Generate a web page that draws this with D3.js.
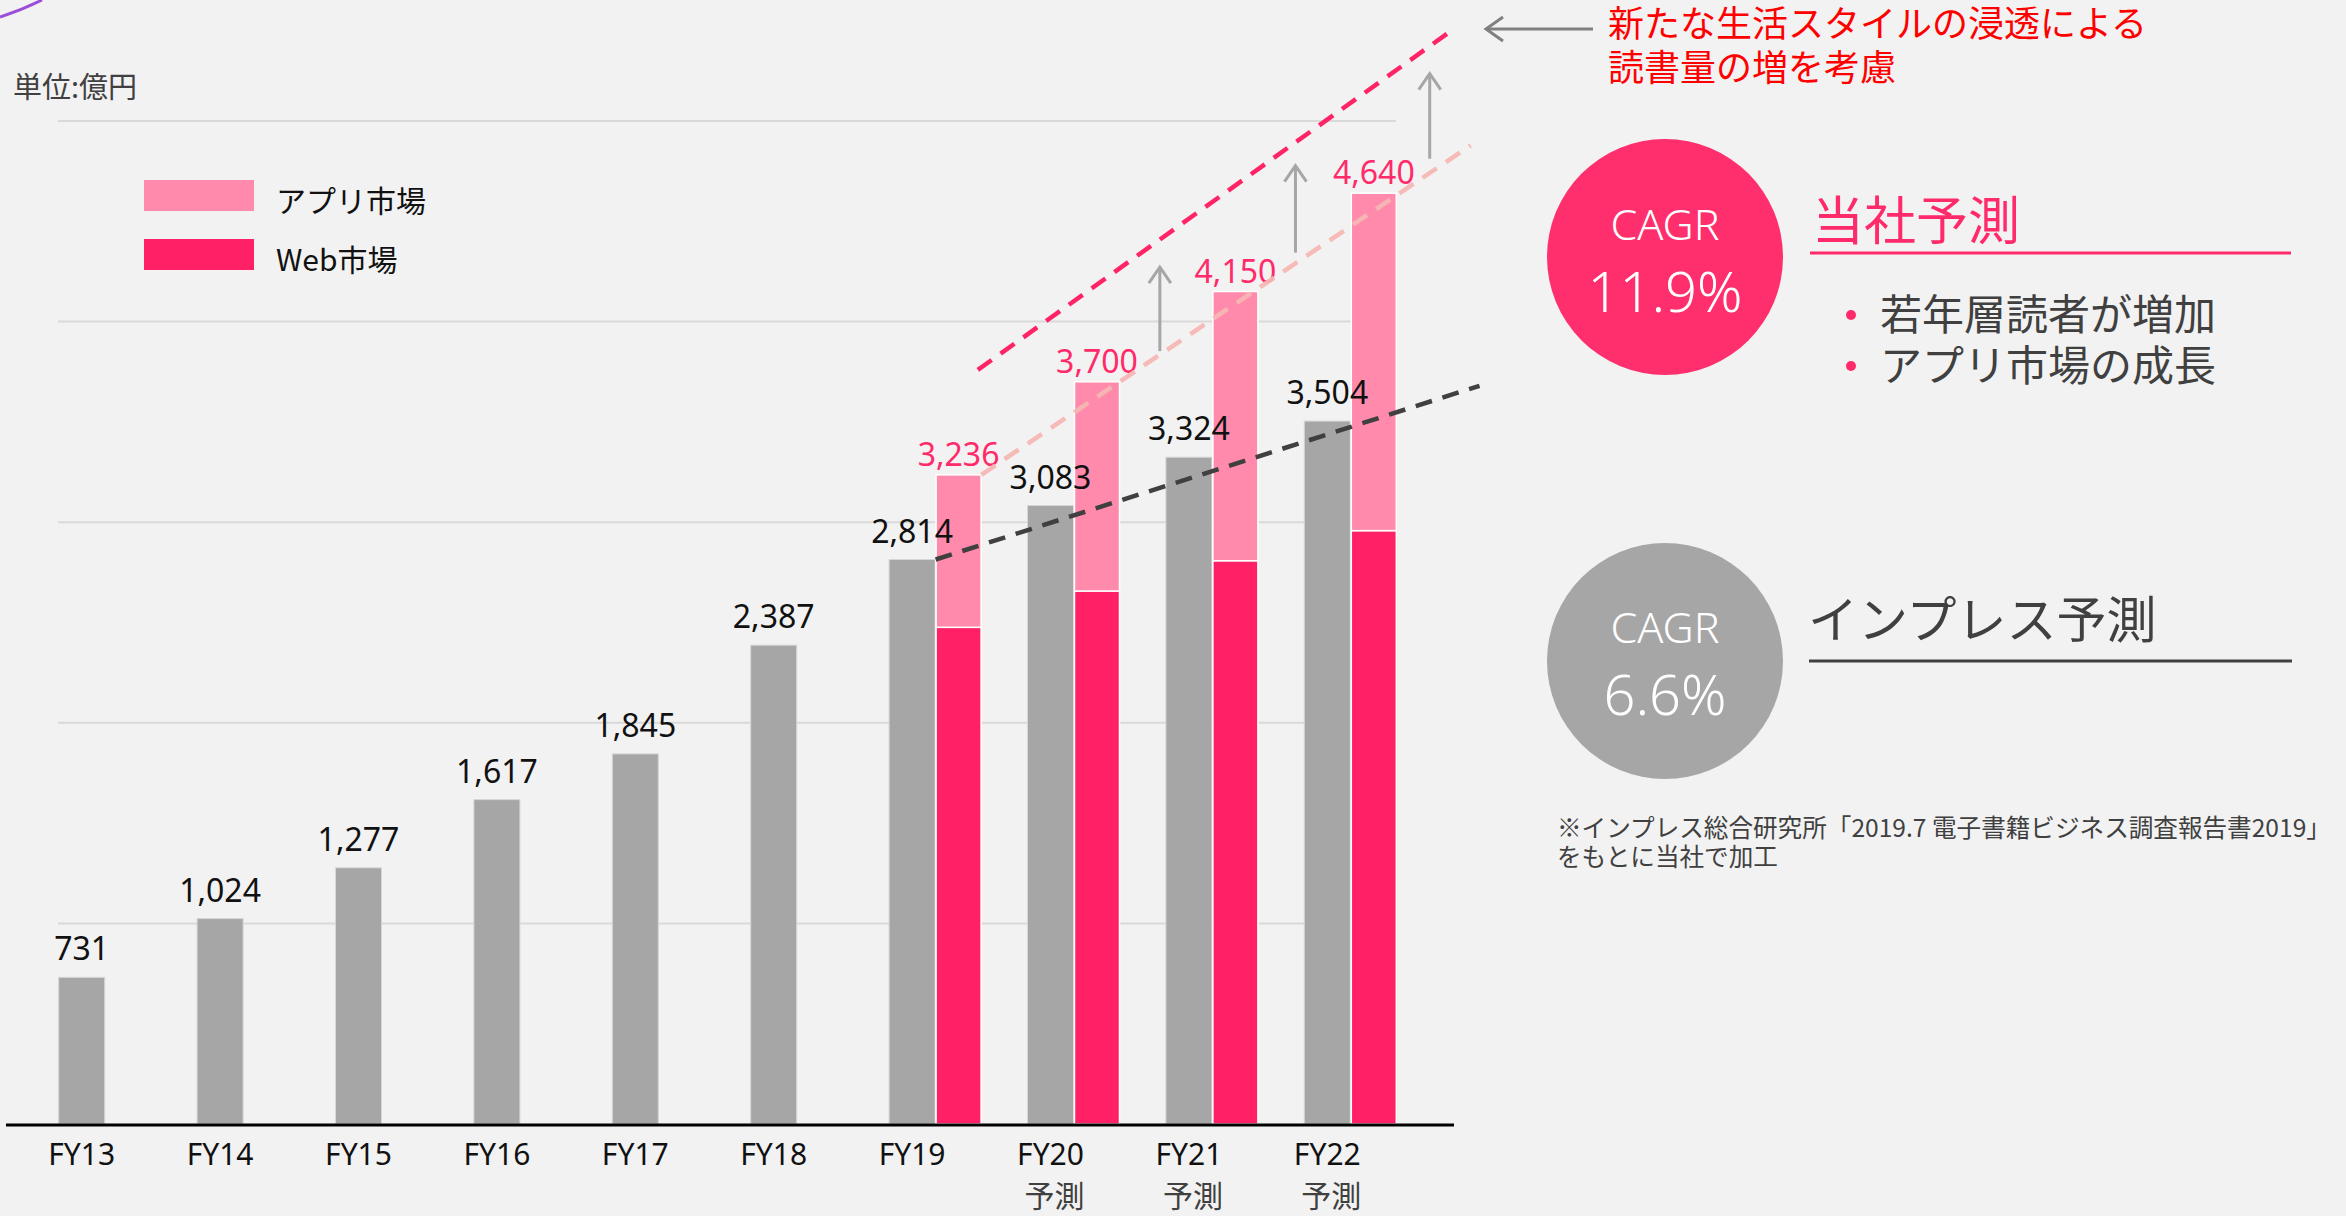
<!DOCTYPE html>
<html>
<head>
<meta charset="utf-8">
<script src="https://cdn.jsdelivr.net/npm/d3@7"></script>
<style>
  html, body { margin: 0; padding: 0; background: #f2f2f2; }
  svg { display: block; }
  text { font-family: "Noto Sans", "Noto Sans CJK JP", sans-serif; }
  .jp { font-family: "Noto Sans CJK JP", "Noto Sans", sans-serif; }
</style>
</head>
<body>
<svg id="chart" width="2346" height="1216"></svg>
<script>
// ---------- data ----------
const categories = ["FY13","FY14","FY15","FY16","FY17","FY18","FY19","FY20","FY21","FY22"];
const subLabels  = ["","","","","","","","予測","予測","予測"];
const impressValues = [731, 1024, 1277, 1617, 1845, 2387, 2814, 3083, 3324, 3504];
const forecastCats  = ["FY19","FY20","FY21","FY22"];
const webValues     = [2476, 2657, 2808, 2958];
const appValues     = [760, 1043, 1342, 1682];
const forecastTotals = [3236, 3700, 4150, 4640];
const yTicks = [1000, 2000, 3000, 4000, 5000];
// trend lines in (category index, value)
const impressTrend = [[6.17, 2814], [10.1, 3680]];
const companyTrend = [[6.50, 3236], [10.035, 4878]];
const lifestyleTrend = [[6.475, 3759], [9.908, 5456]];
const upArrows = [[7.79, 3853, 4277], [8.77, 4344, 4783], [9.74, 4812, 5241]];
const legendItems = [{label:"アプリ市場", key:"app"}, {label:"Web市場", key:"web"}];

const colors = { gray:"#a6a6a6", app:"#ff8aab", web:"#ff2066", pinkText:"#ff2a6a",
                 dark:"#404040", salmon:"#f6b6b3", circlePink:"#fe2f6c" };

// ---------- setup ----------
const svg = d3.select("#chart");
svg.append("rect").attr("width",2346).attr("height",1216).attr("fill","#f2f2f2");

const step = 138.4;
const x = d3.scaleBand().domain(categories).range([81.7 - step/2, 81.7 - step/2 + step*categories.length]).padding(0);
const cx = c => x(c) + x.bandwidth()/2;
const xi = d3.scaleLinear().domain([0, 9]).range([cx("FY13"), cx("FY22")]);
const y = d3.scaleLinear().domain([0, 5000]).range([1124, 121]);
const barW = 46;

// decorative arc top-left
svg.append("path").attr("d","M0,17 Q22,10 42,0").attr("fill","none")
   .attr("stroke","#9b4fd9").attr("stroke-width",3);

// gridlines
svg.append("g").selectAll("line").data(yTicks).join("line")
  .attr("x1", 58).attr("x2", 1396)
  .attr("y1", d => y(d)).attr("y2", d => y(d))
  .attr("stroke", "#d9d9d9").attr("stroke-width", 2);

// unit label
svg.append("text").attr("class","jp").attr("x", 13).attr("y", 98)
  .attr("font-size", 29).attr("fill", "#404040").text("単位:億円");

// legend
const lg = svg.append("g");
legendItems.forEach((d, i) => {
  const top = 180 + i*59;
  lg.append("rect").attr("x",144).attr("y",top).attr("width",110).attr("height",31)
    .attr("fill", d.key === "app" ? colors.app : colors.web);
  lg.append("text").attr("class","jp").attr("x",276).attr("y", top + 32)
    .attr("font-size",30).attr("fill","#111").text(d.label);
});

// gray bars
svg.append("g").selectAll("rect").data(impressValues).join("rect")
  .attr("x", (d,i) => cx(categories[i]) - barW/2)
  .attr("y", d => y(d))
  .attr("width", barW)
  .attr("height", d => y(0) - y(d))
  .attr("fill", colors.gray)
  .attr("stroke", "#d6d6d6").attr("stroke-width", 1);

// stacked forecast bars
const stackData = forecastCats.map((c,i) => ({cat:c, web:webValues[i], app:appValues[i]}));
const stack = d3.stack().keys(["web","app"])(stackData);
const pinkOff = 24;
const pinkW = 45;
svg.append("g").selectAll("g").data(stack).join("g")
  .attr("fill", s => s.key === "web" ? colors.web : colors.app)
  .selectAll("rect").data(s => s).join("rect")
  .attr("x", d => cx(d.data.cat) + pinkOff)
  .attr("y", d => y(d[1]))
  .attr("width", pinkW)
  .attr("height", d => y(d[0]) - y(d[1]))
  .attr("stroke", "#ffffff").attr("stroke-width", 1.5);

// baseline
svg.append("line").attr("x1",6).attr("x2",1454).attr("y1",y(0)+1).attr("y2",y(0)+1)
  .attr("stroke","#000").attr("stroke-width",3);

// gray value labels
svg.append("g").selectAll("text").data(impressValues).join("text")
  .attr("x", (d,i) => cx(categories[i]))
  .attr("y", d => y(d) - 17)
  .attr("text-anchor","middle").attr("font-size",32).attr("fill","#111")
  .text(d => d3.format(",")(d));

// forecast total labels
svg.append("g").selectAll("text").data(forecastTotals).join("text")
  .attr("x", (d,i) => cx(forecastCats[i]) + pinkOff + pinkW/2)
  .attr("y", d => y(d) - 9)
  .attr("text-anchor","middle").attr("font-size",32).attr("fill",colors.pinkText)
  .text(d => d3.format(",")(d));

// x axis labels
const xl = svg.append("g");
xl.selectAll("text.fy").data(categories).join("text").attr("class","fy")
  .attr("x", d => cx(d)).attr("y", 1165)
  .attr("text-anchor","middle").attr("font-size",30).attr("fill","#111").text(d => d);
xl.selectAll("text.sub").data(subLabels).join("text").attr("class","sub jp")
  .attr("x", (d,i) => cx(categories[i]) + 4).attr("y", 1207)
  .attr("text-anchor","middle").attr("font-size",30).attr("fill","#404040").text(d => d);

// trend lines
const line = d3.line().x(d => xi(d[0])).y(d => y(d[1]));
svg.append("path").attr("d", line(impressTrend)).attr("fill","none")
  .attr("stroke", colors.dark).attr("stroke-width",4.5).attr("stroke-dasharray","17 11");
svg.append("path").attr("d", line(companyTrend)).attr("fill","none")
  .attr("stroke", colors.salmon).attr("stroke-width",4.5).attr("stroke-dasharray","17 11").attr("opacity",0.95);
svg.append("path").attr("d", line(lifestyleTrend)).attr("fill","none")
  .attr("stroke", "#ff2466").attr("stroke-width",4.5).attr("stroke-dasharray","17 11");

// up arrows
const ag = svg.append("g").attr("stroke","#a6a6a6").attr("stroke-width",3).attr("fill","none");
upArrows.forEach(a => {
  const ax = xi(a[0]), y1 = y(a[1]), y2 = y(a[2]);
  ag.append("line").attr("x1",ax).attr("x2",ax).attr("y1",y1).attr("y2",y2+1);
  ag.append("path").attr("d", `M${ax-11},${y2+17} L${ax},${y2+1} L${ax+11},${y2+17}`);
});

// left arrow to annotation
const la = svg.append("g").attr("stroke","#808080").attr("stroke-width",3).attr("fill","none");
la.append("line").attr("x1",1593).attr("x2",1486).attr("y1",29).attr("y2",29);
la.append("path").attr("d","M1503,17 L1486,29 L1503,41");

// red annotation
svg.append("text").attr("class","jp").attr("x",1608).attr("y",37).attr("font-size",36)
  .attr("fill","#ff0000").text("新たな生活スタイルの浸透による");
svg.append("text").attr("class","jp").attr("x",1608).attr("y",81).attr("font-size",36)
  .attr("fill","#ff0000").text("読書量の増を考慮");

// right panel: company forecast
svg.append("circle").attr("cx",1665).attr("cy",257).attr("r",118).attr("fill",colors.circlePink);
svg.append("text").attr("x",1665).attr("y",240).attr("text-anchor","middle").attr("font-size",43)
  .attr("font-weight",300).attr("fill","#fff").text("CAGR");
svg.append("text").attr("x",1665).attr("y",312).attr("text-anchor","middle").attr("font-size",56)
  .attr("font-weight",300).attr("fill","#fff").text("11.9%");
svg.append("text").attr("class","jp").attr("x",1812).attr("y",240).attr("font-size",52)
  .attr("fill",colors.pinkText).text("当社予測");
svg.append("line").attr("x1",1810).attr("x2",2291).attr("y1",253).attr("y2",253)
  .attr("stroke",colors.pinkText).attr("stroke-width",3);
const bullets = ["若年層読者が増加", "アプリ市場の成長"];
bullets.forEach((b,i) => {
  svg.append("circle").attr("cx",1851).attr("cy",315 + i*51).attr("r",5).attr("fill",colors.pinkText);
  svg.append("text").attr("class","jp").attr("x",1880).attr("y",330 + i*51).attr("font-size",42)
    .attr("fill","#404040").text(b);
});

// right panel: impress forecast
svg.append("circle").attr("cx",1665).attr("cy",661).attr("r",118).attr("fill","#a6a6a6");
svg.append("text").attr("x",1665).attr("y",643).attr("text-anchor","middle").attr("font-size",43)
  .attr("font-weight",300).attr("fill","#fff").text("CAGR");
svg.append("text").attr("x",1665).attr("y",715).attr("text-anchor","middle").attr("font-size",56)
  .attr("font-weight",300).attr("fill","#fff").text("6.6%");
svg.append("text").attr("class","jp").attr("x",1808).attr("y",638).attr("font-size",50)
  .attr("fill","#404040").text("インプレス予測");
svg.append("line").attr("x1",1809).attr("x2",2292).attr("y1",661).attr("y2",661)
  .attr("stroke","#404040").attr("stroke-width",3);

// footnote
svg.append("text").attr("class","jp").attr("x",1557).attr("y",837).attr("font-size",24.6)
  .attr("fill","#404040").text("※インプレス総合研究所「2019.7 電子書籍ビジネス調査報告書2019」");
svg.append("text").attr("class","jp").attr("x",1557).attr("y",866).attr("font-size",24.6)
  .attr("fill","#404040").text("をもとに当社で加工");
</script>
</body>
</html>
